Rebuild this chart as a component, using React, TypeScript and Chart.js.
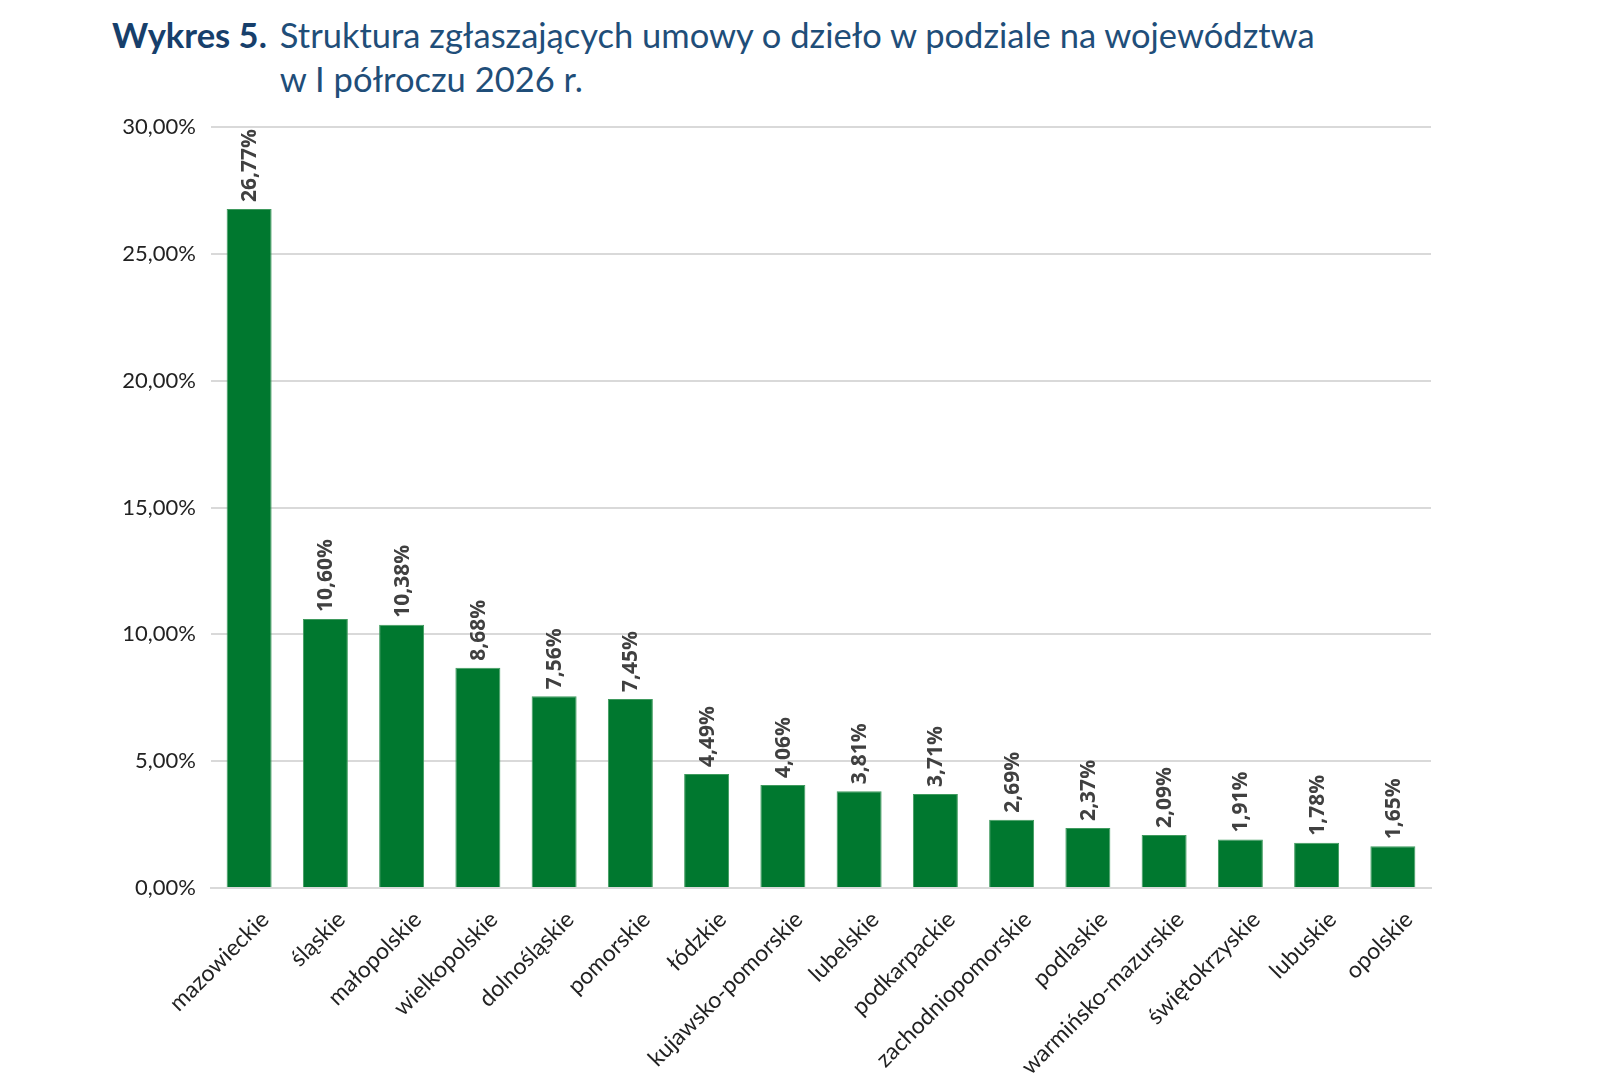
import React, { useEffect, useRef } from 'react';
import { Chart, registerables } from 'chart.js';

Chart.register(...registerables);

const regions = [
  'mazowieckie', 'śląskie', 'małopolskie', 'wielkopolskie', 'dolnośląskie', 'pomorskie',
  'łódzkie', 'kujawsko-pomorskie', 'lubelskie', 'podkarpackie', 'zachodniopomorskie',
  'podlaskie', 'warmińsko-mazurskie', 'świętokrzyskie', 'lubuskie', 'opolskie',
];
const shares = [26.77, 10.6, 10.38, 8.68, 7.56, 7.45, 4.49, 4.06, 3.81, 3.71, 2.69, 2.37, 2.09, 1.91, 1.78, 1.65];
const yTicks = [0, 5, 10, 15, 20, 25, 30];

const pct = (v: number) => v.toFixed(2).replace('.', ',') + '%';

// value labels written upright above each bar
const barLabels = {
  id: 'barLabels',
  afterDatasetsDraw(chart: Chart) {
    const ctx = chart.ctx;
    const meta = chart.getDatasetMeta(0);
    ctx.save();
    ctx.font = 'bold 21px "Open Sans", sans-serif';
    ctx.fillStyle = '#404040';
    ctx.textAlign = 'left';
    ctx.textBaseline = 'middle';
    meta.data.forEach((bar: any, i: number) => {
      ctx.save();
      ctx.translate(bar.x, bar.y - 7);
      ctx.rotate(-Math.PI / 2);
      ctx.fillText(pct(shares[i]), 0, 1);
      ctx.restore();
    });
    ctx.restore();
  },
};

export default function App() {
  const canvasRef = useRef<HTMLCanvasElement>(null);

  useEffect(() => {
    if (!canvasRef.current) return;
    const chart = new Chart(canvasRef.current, {
      type: 'bar',
      data: {
        labels: regions,
        datasets: [
          {
            data: shares,
            backgroundColor: '#00782F',
            borderColor: '#3f9a5e',
            borderWidth: 1,
            categoryPercentage: 1,
            barPercentage: 0.59,
          },
        ],
      },
      options: {
        animation: false,
        responsive: false,
        devicePixelRatio: 1,
        layout: { padding: { top: 127, right: 169, left: 0, bottom: 0 } },
        plugins: { legend: { display: false }, tooltip: { enabled: false } },
        scales: {
          y: {
            min: 0,
            max: 30,
            afterBuildTicks: (scale: any) => {
              scale.ticks = yTicks.map((v) => ({ value: v }));
            },
            afterFit: (scale: any) => {
              scale.width = 211;
            },
            grid: { color: '#d9d9d9', lineWidth: 2, drawTicks: false },
            border: { display: false },
            ticks: {
              padding: 15,
              color: '#222',
              font: { family: 'Lato, sans-serif', size: 22 },
              callback: (v: any) => pct(Number(v)),
            },
          },
          x: {
            afterFit: (scale: any) => {
              scale.height = 1084 - 888;
            },
            grid: { display: false },
            border: { color: '#d9d9d9', width: 2 },
            ticks: {
              minRotation: 45,
              maxRotation: 45,
              autoSkip: false,
              labelOffset: 16,
              padding: 10,
              color: '#222',
              font: { family: 'Lato, sans-serif', size: 23 },
            },
          },
        },
      },
      plugins: [barLabels],
    });
    return () => chart.destroy();
  }, []);

  return (
    <div style={{ position: 'absolute', left: 0, top: 0, width: 1600, height: 1084, background: '#fff' }}>
      <div
        style={{
          position: 'absolute',
          left: 112,
          top: 13,
          fontFamily: 'Lato, sans-serif',
          fontSize: 34.5,
          lineHeight: '44px',
          color: '#1f4e79',
          display: 'flex',
        }}
      >
        <span style={{ fontWeight: 'bold', color: '#173f6b', marginRight: 13 }}>Wykres 5.</span>
        <span>
          Struktura zgłaszających umowy o dzieło w podziale na województwa
          <br />w I półroczu 2026 r.
        </span>
      </div>
      <canvas ref={canvasRef} width={1600} height={1084} style={{ position: 'absolute', left: 0, top: 0 }} />
    </div>
  );
}
